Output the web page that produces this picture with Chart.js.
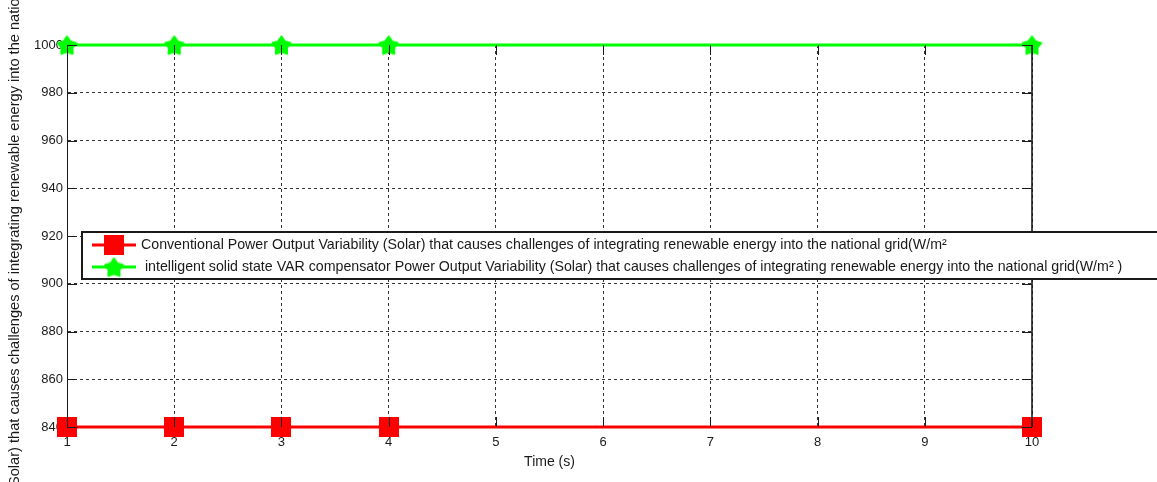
<!DOCTYPE html>
<html>
<head>
<meta charset="utf-8">
<script src="https://cdn.jsdelivr.net/npm/chart.js@4/dist/chart.umd.min.js"></script>
<style>
  html, body { margin: 0; padding: 0; background: #fff; }
  #wrap { width: 1157px; height: 482px; }
</style>
</head>
<body>
<div id="wrap"><canvas id="c" width="1157" height="482"></canvas></div>
<script>
// Sample times (s) and measured power output for each scheme
const timeSeconds = [1, 2, 3, 4, 10];
const conventionalOutput = [840, 840, 840, 840, 840];
const svcOutput = [1000, 1000, 1000, 1000, 1000];

// Axis tick values
const xTickValues = [1, 2, 3, 4, 5, 6, 7, 8, 9, 10];
const yTickValues = [840, 860, 880, 900, 920, 940, 960, 980, 1000];

// Texts
const seriesLabels = [
  'Conventional Power Output Variability (Solar) that causes challenges of integrating renewable energy into the national grid(W/m\u00B2',
  ' intelligent solid state VAR compensator Power Output Variability (Solar) that causes challenges of integrating renewable energy into the national grid(W/m\u00B2 )'
];
const xAxisTitle = 'Time (s)';
const yAxisTitle = 'Power Output Variability (Solar) that causes challenges of integrating renewable energy into the national grid(W/m\u00B2)';

const FONT = '"Liberation Sans", Arial, Helvetica, sans-serif';
const INK = '#1a1a1a';

// Marker sprites: filled square and five-pointed star
function squareMarker(size, color) {
  const cv = document.createElement('canvas');
  cv.width = size; cv.height = size;
  const g = cv.getContext('2d');
  g.fillStyle = color;
  g.fillRect(0, 0, size, size);
  return cv;
}
function starMarker(size, color, innerRatio) {
  const cv = document.createElement('canvas');
  cv.width = size; cv.height = size;
  const g = cv.getContext('2d');
  const c = size / 2, R = size / 2 - 1, r = R * innerRatio;
  g.beginPath();
  for (let i = 0; i < 10; i++) {
    const a = -Math.PI / 2 + i * Math.PI / 5;
    const rad = i % 2 === 0 ? R : r;
    const px = c + rad * Math.cos(a), py = c + 1 + rad * Math.sin(a);
    if (i === 0) g.moveTo(px, py); else g.lineTo(px, py);
  }
  g.closePath();
  g.fillStyle = color;
  g.strokeStyle = color;
  g.lineJoin = 'round';
  g.lineWidth = 2;
  g.fill();
  g.stroke();
  return cv;
}

const redSquare = squareMarker(20, '#ff0000');
const greenStar = starMarker(21, '#00ff00', 0.6);

// Frame, inward ticks, axis titles and the boxed legend
const framePlugin = {
  id: 'frame',
  afterDatasetsDraw(chart) {
    const { ctx, chartArea: a, scales } = chart;
    ctx.save();
    ctx.strokeStyle = INK;
    ctx.lineWidth = 1;
    ctx.setLineDash([]);
    // inward tick marks
    const tl = 10;
    ctx.beginPath();
    yTickValues.forEach(v => {
      const y = Math.round(scales.y.getPixelForValue(v)) + 0.5;
      ctx.moveTo(a.left, y); ctx.lineTo(a.left + tl, y);
      ctx.moveTo(a.right, y); ctx.lineTo(a.right - tl, y);
    });
    xTickValues.forEach(v => {
      const x = Math.round(scales.x.getPixelForValue(v)) + 0.5;
      ctx.moveTo(x, a.bottom); ctx.lineTo(x, a.bottom - tl);
      ctx.moveTo(x, a.top); ctx.lineTo(x, a.top + tl);
    });
    ctx.stroke();
    // right border
    ctx.lineWidth = 1.6;
    ctx.beginPath();
    ctx.moveTo(a.right, a.top); ctx.lineTo(a.right, a.bottom);
    ctx.stroke();
    ctx.restore();
  },
  afterDraw(chart) {
    const { ctx, chartArea: a } = chart;
    ctx.save();
    // axis titles
    ctx.fillStyle = INK;
    ctx.font = '14px ' + FONT;
    ctx.textAlign = 'center';
    ctx.textBaseline = 'middle';
    ctx.fillText(xAxisTitle, (a.left + a.right) / 2, 462);

    // y title runs bottom-to-top, its start lies below the canvas edge
    ctx.font = '14.6px ' + FONT;
    const lead = ctx.measureText('Power Output Variability (').width;
    ctx.save();
    ctx.translate(15, chart.height + 4 + lead);
    ctx.rotate(-Math.PI / 2);
    ctx.textAlign = 'left';
    ctx.fillText(yAxisTitle, 0, 0);
    ctx.restore();

    // legend box
    const bx = 82, by = 232, bw = 1200, bh = 47;
    ctx.fillStyle = '#ffffff';
    ctx.fillRect(bx, by, bw, bh);
    ctx.strokeStyle = INK;
    ctx.lineWidth = 2;
    ctx.strokeRect(bx, by, bw, bh);

    const rows = [
      { y: 245, color: '#ff0000', marker: redSquare },
      { y: 267, color: '#00ff00', marker: greenStar }
    ];
    chart.data.datasets.forEach((ds, i) => {
      const row = rows[i];
      ctx.strokeStyle = row.color;
      ctx.lineWidth = 3;
      ctx.beginPath();
      ctx.moveTo(92, row.y); ctx.lineTo(136, row.y);
      ctx.stroke();
      ctx.drawImage(row.marker, 114 - row.marker.width / 2, row.y - row.marker.height / 2);
      ctx.fillStyle = INK;
      ctx.font = '14.2px ' + FONT;
      ctx.textAlign = 'left';
      ctx.textBaseline = 'middle';
      ctx.fillText(ds.label, 141, row.y);
    });
    ctx.restore();
  }
};

const toPoints = (xs, ys) => xs.map((x, i) => ({ x: x, y: ys[i] }));

new Chart(document.getElementById('c'), {
  type: 'line',
  data: {
    datasets: [
      {
        label: seriesLabels[0],
        data: toPoints(timeSeconds, conventionalOutput),
        borderColor: '#ff0000',
        backgroundColor: '#ff0000',
        borderWidth: 3,
        pointStyle: redSquare,
        pointRadius: 10,
        pointHoverRadius: 10,
        clip: false,
        tension: 0
      },
      {
        label: seriesLabels[1],
        data: toPoints(timeSeconds, svcOutput),
        borderColor: '#00ff00',
        backgroundColor: '#00ff00',
        borderWidth: 3,
        pointStyle: greenStar,
        pointRadius: 10,
        pointHoverRadius: 10,
        clip: false,
        tension: 0
      }
    ]
  },
  options: {
    responsive: false,
    animation: false,
    events: [],
    layout: { padding: { top: 45, right: 125, left: 0, bottom: 0 } },
    plugins: {
      legend: { display: false },
      title: { display: false },
      tooltip: { enabled: false }
    },
    scales: {
      x: {
        type: 'linear',
        min: 1,
        max: 10,
        afterBuildTicks: s => { s.ticks = xTickValues.map(v => ({ value: v })); },
        afterFit: s => { s.height = 55; },
        ticks: {
          autoSkip: false,
          maxRotation: 0,
          padding: 8,
          color: INK,
          font: { family: FONT, size: 13 },
          callback: v => String(v)
        },
        grid: { color: '#333333', lineWidth: 1, drawTicks: false },
        border: { display: true, color: INK, width: 1, dash: [3, 3] }
      },
      y: {
        type: 'linear',
        min: 840,
        max: 1000,
        afterBuildTicks: s => { s.ticks = yTickValues.map(v => ({ value: v })); },
        afterFit: s => { s.width = 67; },
        ticks: {
          autoSkip: false,
          padding: 4,
          color: INK,
          font: { family: FONT, size: 13 },
          callback: v => String(v)
        },
        grid: { color: '#333333', lineWidth: 1, drawTicks: false },
        border: { display: true, color: INK, width: 1, dash: [3, 3] }
      }
    }
  },
  plugins: [framePlugin]
});
</script>
</body>
</html>
